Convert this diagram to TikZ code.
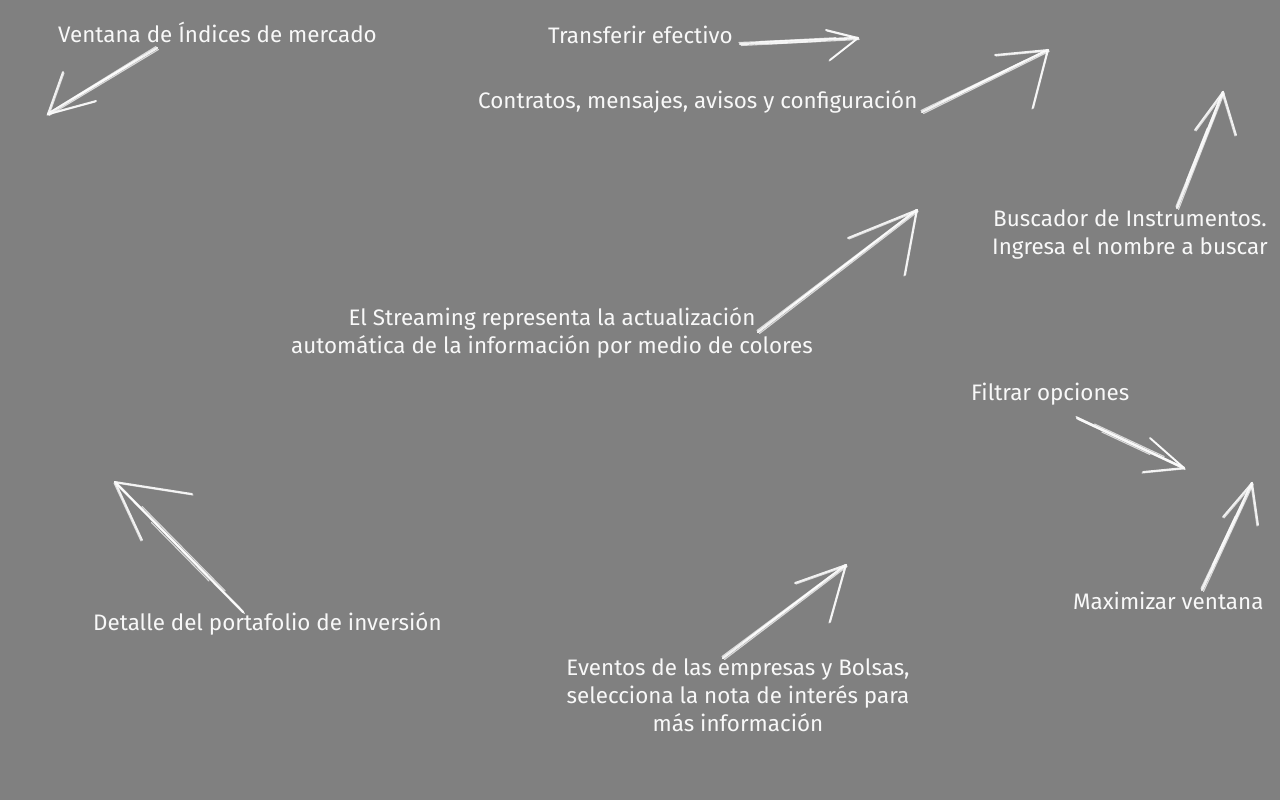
\documentclass[tikz,border=0pt]{standalone}
\usepackage{fontspec}
\setmainfont{Fira Sans}
\usetikzlibrary{calc}
\definecolor{bggray}{RGB}{128,128,128}
\definecolor{chalkwhite}{RGB}{248,248,248}
\tikzset{
  lbl/.style={text=chalkwhite, inner sep=0pt, font=\fontsize{22.4}{28}\selectfont},
  chalkmain/.style={draw=chalkwhite, line width=2.4pt, line cap=round, opacity=0.95},
  chalkthin/.style={draw=white, line width=1.1pt, line cap=round, opacity=0.7},
  chalkbarb/.style={draw=chalkwhite, line width=1.9pt, line cap=round, opacity=0.95},
}
\newcommand{\chalkarrow}[4]{%
  \draw[chalkmain] (#1) -- (#2);
  \draw[chalkthin] ($(#1)+(1.5,1.5)$) -- ($(#2)+(1,1.5)$);
  \draw[chalkthin] ($(#1)+(-1,-1.5)$) -- ($(#2)+(-0.5,-0.5)$);
  \draw[chalkthin] ($(#1)!0.15!(#2)+(1.5,-1.5)$) -- ($(#1)!0.8!(#2)+(1.5,-1.5)$);
  \draw[chalkthin] ($(#1)!0.25!(#2)+(-2,1.5)$) -- ($(#1)!0.7!(#2)+(-2,1.5)$);
  \draw[chalkbarb] (#2) -- (#3);
  \draw[chalkthin] ($(#2)+(1,1)$) -- ($(#3)+(1,1)$);
  \draw[chalkbarb] (#2) -- (#4);
  \draw[chalkthin] ($(#2)+(-1,1)$) -- ($(#4)+(-1,1)$);
}
\begin{document}
\begin{tikzpicture}[x=1pt,y=-1pt]
\useasboundingbox (0,0) rectangle (1280,800);
\fill[bggray] (0,0) rectangle (1280,800);

% labels
\node[lbl, anchor=west] (ventana) at (58,32) {Ventana de Índices de mercado};
\node[lbl, anchor=west] (transf) at (548,35) {Transferir efectivo};
\node[lbl, anchor=west] (contr) at (478,102) {Contratos, mensajes, avisos y configuración};
\node[lbl, align=center] (busc) at (1130,234) {Buscador de Instrumentos.\\Ingresa el nombre a buscar};
\node[lbl, align=center] (stream) at (552,333) {El Streaming representa la actualización\\automática de la información por medio de colores};
\node[lbl, anchor=west] (filtr) at (971,394) {Filtrar opciones};
\node[lbl, anchor=west] (detal) at (93,624) {Detalle del portafolio de inversión};
\node[lbl, align=center] (event) at (738,695) {Eventos de las empresas y Bolsas,\\selecciona la nota de interés para\\más información};
\node[lbl, anchor=west] (maxim) at (1073,601) {Maximizar ventana};

% arrow coordinates
\coordinate (a1t) at (157,48);  \coordinate (a1h) at (48,114);
\coordinate (a1b) at (63,72);   \coordinate (a1c) at (96,101);
\coordinate (a2t) at (740,44);  \coordinate (a2h) at (858,38);
\coordinate (a2b) at (826,30);  \coordinate (a2c) at (830,60);
\coordinate (a3t) at (922,112); \coordinate (a3h) at (1048,50);
\coordinate (a3b) at (995,55);  \coordinate (a3c) at (1033,108);
\coordinate (a4t) at (1177,208);\coordinate (a4h) at (1223,92);
\coordinate (a4b) at (1195,130);\coordinate (a4c) at (1236,135);
\coordinate (a5t) at (758,332); \coordinate (a5h) at (917,210);
\coordinate (a5b) at (848,238); \coordinate (a5c) at (905,275);
\coordinate (a6t) at (1077,418);\coordinate (a6h) at (1184,468);
\coordinate (a6b) at (1150,438);\coordinate (a6c) at (1143,472);
\coordinate (a7t) at (243,612); \coordinate (a7h) at (115,482);
\coordinate (a7b) at (192,494); \coordinate (a7c) at (142,540);
\coordinate (a8t) at (723,658); \coordinate (a8h) at (846,565);
\coordinate (a8b) at (795,583); \coordinate (a8c) at (830,622);
\coordinate (a9t) at (1202,590);\coordinate (a9h) at (1252,483);
\coordinate (a9b) at (1223,517);\coordinate (a9c) at (1258,525);

\chalkarrow{a1t}{a1h}{a1b}{a1c}
\chalkarrow{a2t}{a2h}{a2b}{a2c}
\chalkarrow{a3t}{a3h}{a3b}{a3c}
\chalkarrow{a4t}{a4h}{a4b}{a4c}
\chalkarrow{a5t}{a5h}{a5b}{a5c}
\chalkarrow{a6t}{a6h}{a6b}{a6c}
\chalkarrow{a7t}{a7h}{a7b}{a7c}
\chalkarrow{a8t}{a8h}{a8b}{a8c}
\chalkarrow{a9t}{a9h}{a9b}{a9c}
\end{tikzpicture}
\end{document}
